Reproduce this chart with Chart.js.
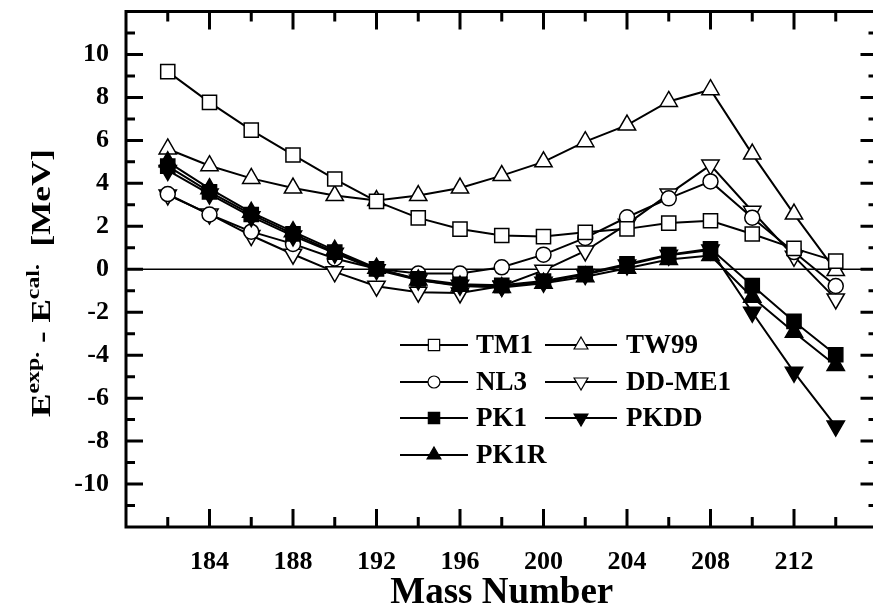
<!DOCTYPE html>
<html>
<head>
<meta charset="utf-8">
<script src="https://cdn.jsdelivr.net/npm/chart.js@4.4.1/dist/chart.umd.min.js"></script>
<style>
  html, body { margin: 0; padding: 0; background: #fff; overflow: hidden; }
  canvas { display: block; }
</style>
</head>
<body>
<!-- wider than the window: the right frame edge sits just off the picture, as in the figure -->
<canvas id="chart" width="889" height="609"></canvas>
<script>
// mass numbers and E(exp) - E(cal) in MeV
const masses = [182, 184, 186, 188, 190, 192, 194, 196, 198, 200, 202, 204, 206, 208, 210, 212, 214];

const tm1   = [9.2, 7.77, 6.48, 5.32, 4.2, 3.16, 2.39, 1.87, 1.57, 1.52, 1.72, 1.88, 2.15, 2.26, 1.64, 0.97, 0.38];
const tw99  = [5.6, 4.82, 4.23, 3.78, 3.43, 3.2, 3.43, 3.78, 4.36, 5.0, 5.94, 6.71, 7.81, 8.36, 5.36, 2.57, -0.06];
const nl3   = [3.5, 2.55, 1.75, 1.18, 0.5, 0.02, -0.2, -0.2, 0.09, 0.68, 1.46, 2.42, 3.3, 4.09, 2.4, 0.8, -0.78];
const ddme1 = [3.46, 2.57, 1.57, 0.7, -0.12, -0.79, -1.07, -1.1, -0.78, -0.05, 0.85, 2.1, 3.5, 4.85, 2.7, 0.6, -1.38];
const pk1   = [4.8, 3.6, 2.55, 1.65, 0.8, 0.02, -0.45, -0.7, -0.75, -0.55, -0.2, 0.25, 0.68, 0.95, -0.76, -2.43, -3.98];
const pkdd  = [4.6, 3.5, 2.45, 1.55, 0.75, -0.02, -0.5, -0.75, -0.8, -0.6, -0.25, 0.2, 0.65, 0.9, -2.0, -4.79, -7.3];
const pk1r  = [5.0, 3.75, 2.65, 1.75, 0.88, 0.05, -0.5, -0.78, -0.85, -0.65, -0.35, 0.05, 0.45, 0.64, -1.3, -2.93, -4.48];

const xTicks = [184, 188, 192, 196, 200, 204, 208, 212];
const yTicks = [-10, -8, -6, -4, -2, 0, 2, 4, 6, 8, 10];

const serif = '"Liberation Serif", "Times New Roman", serif';

function pts(vals) {
    return masses.map((m, i) => ({ x: m, y: vals[i] }));
}

function series(label, vals, style, filled, radius, rot, order) {
    return {
        label: label,
        data: pts(vals),
        borderColor: '#000',
        borderWidth: 2,
        pointStyle: style,
        pointRotation: rot || 0,
        pointRadius: radius,
        pointBorderWidth: 1.5,
        pointBorderColor: '#000',
        pointBackgroundColor: filled ? '#000' : '#fff',
        tension: 0,
        fill: false,
        order: order
    };
}

function drawMark(ctx, style, rot, r, x, y) {
    if (style === 'circle') {
        ctx.arc(x, y, r, 0, Math.PI * 2);
    } else if (style === 'rect') {
        const s = r * Math.SQRT1_2;
        ctx.rect(x - s, y - s, 2 * s, 2 * s);
    } else {
        let rad = (rot || 0) * Math.PI / 180;
        ctx.moveTo(x + Math.sin(rad) * r, y - Math.cos(rad) * r);
        for (let i = 0; i < 2; i++) {
            rad += 2 * Math.PI / 3;
            ctx.lineTo(x + Math.sin(rad) * r, y - Math.cos(rad) * r);
        }
        ctx.closePath();
    }
}

// inward ticks, frame, zero line, legend and the y title
const decor = {
    id: 'decor',
    beforeDatasetsDraw(chart) {
        const ctx = chart.ctx, a = chart.chartArea, y = chart.scales.y;
        ctx.save();
        ctx.strokeStyle = '#000';
        ctx.lineWidth = 1.5;
        ctx.beginPath();
        ctx.moveTo(a.left, y.getPixelForValue(0));
        ctx.lineTo(a.right, y.getPixelForValue(0));
        ctx.stroke();
        ctx.restore();
    },
    afterDraw(chart) {
        const ctx = chart.ctx, a = chart.chartArea;
        const xs = chart.scales.x, ys = chart.scales.y;
        ctx.save();
        ctx.strokeStyle = '#000';
        ctx.lineWidth = 3;
        ctx.lineCap = 'butt';

        // ticks
        ctx.beginPath();
        for (let m = 182; m < 216; m += 2) {
            const px = xs.getPixelForValue(m);
            const len = m % 4 === 0 ? 18 : 10;
            ctx.moveTo(px, a.bottom); ctx.lineTo(px, a.bottom - len);
            ctx.moveTo(px, a.top); ctx.lineTo(px, a.top + len);
        }
        for (let v = -11; v <= 11; v++) {
            const py = ys.getPixelForValue(v);
            const len = v % 2 === 0 ? 17 : 9;
            ctx.moveTo(a.left, py); ctx.lineTo(a.left + len, py);
            ctx.moveTo(a.right, py); ctx.lineTo(a.right - len, py);
        }
        ctx.stroke();

        // frame
        ctx.strokeRect(a.left, a.top, a.right - a.left, a.bottom - a.top);

        // legend
        const rowsY = [345, 382, 418, 455];
        const cols = [{ x1: 400, x2: 468, tx: 476 }, { x1: 545, x2: 617, tx: 626 }];
        ctx.font = 'bold 27px ' + serif;
        ctx.textBaseline = 'middle';
        ctx.textAlign = 'left';
        chart.data.datasets.forEach((ds, k) => {
            const c = cols[k % 2], ry = rowsY[Math.floor(k / 2)];
            ctx.strokeStyle = '#000';
            ctx.lineWidth = 2;
            ctx.beginPath();
            ctx.moveTo(c.x1, ry); ctx.lineTo(c.x2, ry);
            ctx.stroke();
            const cx = (c.x1 + c.x2) / 2;
            const r = ds.pointStyle === 'circle' ? 6 : 8;
            ctx.fillStyle = ds.pointBackgroundColor;
            ctx.lineWidth = 1.2;
            ctx.beginPath();
            drawMark(ctx, ds.pointStyle, ds.pointRotation, r, cx, ry);
            ctx.fill();
            ctx.stroke();
            ctx.fillStyle = '#000';
            ctx.fillText(ds.label, c.tx, ry + 1);
        });

        // y title: E^exp. - E^cal.  [MeV]
        const big = 'bold 28px ' + serif, small = 'bold 19px ' + serif;
        const parts = [
            ['E', big, 0], ['exp.', small, -11], [' - ', big, 0],
            ['E', big, 0], ['cal.', small, -11], ['  [MeV]', big, 0]
        ];
        let total = 0;
        parts.forEach(p => { ctx.font = p[1]; total += ctx.measureText(p[0]).width; });
        const target = 268;
        ctx.translate(50, 283);
        ctx.rotate(-Math.PI / 2);
        ctx.scale(target / total, 1);
        ctx.textBaseline = 'alphabetic';
        ctx.fillStyle = '#000';
        let x = -total / 2;
        parts.forEach(p => {
            ctx.font = p[1];
            ctx.fillText(p[0], x, p[2]);
            x += ctx.measureText(p[0]).width;
        });
        ctx.restore();
    }
};

new Chart(document.getElementById('chart'), {
    type: 'line',
    data: {
        datasets: [
            series('TM1', tm1, 'rect', false, 10, 0, 2),
            series('TW99', tw99, 'triangle', false, 10, 0, 2),
            series('NL3', nl3, 'circle', false, 7.5, 0, 2),
            series('DD-ME1', ddme1, 'triangle', false, 10, 180, 2),
            series('PK1', pk1, 'rect', true, 10, 0, 1),
            series('PKDD', pkdd, 'triangle', true, 10, 180, 1),
            series('PK1R', pk1r, 'triangle', true, 10, 0, 1)
        ]
    },
    options: {
        responsive: false,
        devicePixelRatio: 1,
        animation: false,
        layout: { padding: { left: 0, top: 8.5, right: 1, bottom: 0 } },
        plugins: { legend: { display: false }, tooltip: { enabled: false } },
        scales: {
            x: {
                type: 'linear',
                min: 180,
                max: 216,
                grid: { display: false, drawTicks: false, tickLength: 0 },
                border: { display: false },
                afterBuildTicks: s => { s.ticks = xTicks.map(v => ({ value: v })); },
                afterFit: s => {
                    s.height = 82;
                    s.paddingLeft = 0; s.paddingRight = 0;
                },
                ticks: {
                    color: '#000',
                    padding: 20,
                    maxRotation: 0,
                    font: { family: serif, size: 26, weight: 'bold' }
                },
                title: {
                    display: true,
                    text: 'Mass Number',
                    color: '#000',
                    padding: 0,
                    font: { family: serif, size: 37, weight: 'bold', lineHeight: 0.85 }
                }
            },
            y: {
                min: -12,
                max: 12,
                grid: { display: false, drawTicks: false, tickLength: 0 },
                border: { display: false },
                afterBuildTicks: s => { s.ticks = yTicks.map(v => ({ value: v })); },
                afterFit: s => {
                    s.width = 126;
                    s.paddingTop = 0; s.paddingBottom = 0;
                },
                ticks: {
                    color: '#000',
                    padding: 17,
                    font: { family: serif, size: 26, weight: 'bold' }
                }
            }
        }
    },
    plugins: [decor]
});
</script>
</body>
</html>
